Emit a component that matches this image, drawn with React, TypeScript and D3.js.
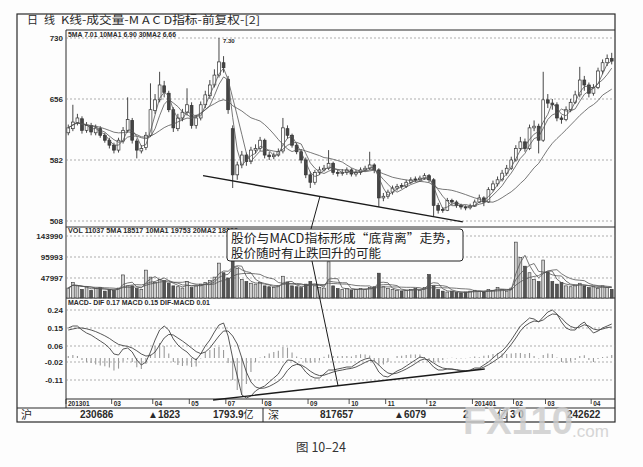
import * as React from "react";
import * as d3 from "d3";

// daily bars (compressed), prices in yuan
const opens = [
  6.15, 6.2, 6.27, 6.32, 6.18, 6.24, 6.15, 6.2, 6.12, 6.06,
  6.0, 5.94, 6.05, 6.18, 6.3, 6.05, 5.93, 5.97, 6.12, 6.42,
  6.55, 6.72, 6.63, 6.43, 6.2, 6.33, 6.4, 6.48, 6.24, 6.33,
  6.49, 6.6, 6.73, 6.85, 7.0, 6.8, 6.2, 5.64, 5.76, 5.88,
  5.8, 5.94, 5.96, 6.06, 5.88, 5.86, 5.88, 5.93, 6.2, 6.12,
  6.0, 5.92, 5.82, 5.64, 5.55, 5.67, 5.7, 5.72, 5.78, 5.67,
  5.66, 5.67, 5.7, 5.65, 5.67, 5.7, 5.72, 5.76, 5.7, 5.36,
  5.38, 5.43, 5.48, 5.51, 5.5, 5.55, 5.59, 5.58, 5.6, 5.63,
  5.58, 5.27, 5.22, 5.21, 5.33, 5.31, 5.27, 5.25, 5.24, 5.26,
  5.31, 5.36, 5.31, 5.46, 5.53, 5.58, 5.66, 5.72, 5.82, 5.96,
  6.04, 5.96, 6.21, 6.23, 6.06, 6.55, 6.51, 6.49, 6.33, 6.31,
  6.43, 6.52, 6.61, 6.79, 6.73, 6.63, 6.7, 6.9, 7.0, 7.05,
];
const closes = [
  6.21, 6.28, 6.33, 6.18, 6.24, 6.16, 6.21, 6.12, 6.06, 6.0,
  5.94, 6.06, 6.18, 6.31, 6.06, 5.94, 5.96, 6.12, 6.43, 6.55,
  6.73, 6.64, 6.43, 6.21, 6.33, 6.4, 6.49, 6.24, 6.33, 6.49,
  6.61, 6.73, 6.85, 7.01, 6.94, 6.43, 5.64, 5.76, 5.88, 5.8,
  5.94, 5.96, 6.06, 5.88, 5.86, 5.88, 5.92, 6.21, 6.12, 6.0,
  5.92, 5.82, 5.64, 5.55, 5.67, 5.7, 5.72, 5.78, 5.67, 5.66,
  5.67, 5.7, 5.65, 5.67, 5.7, 5.72, 5.76, 5.7, 5.36, 5.38,
  5.43, 5.48, 5.5, 5.5, 5.55, 5.58, 5.58, 5.6, 5.63, 5.58,
  5.27, 5.21, 5.21, 5.33, 5.31, 5.27, 5.25, 5.24, 5.26, 5.31,
  5.36, 5.31, 5.46, 5.53, 5.58, 5.66, 5.72, 5.82, 5.96, 6.04,
  5.96, 6.21, 6.23, 6.06, 6.55, 6.51, 6.49, 6.33, 6.31, 6.43,
  6.52, 6.61, 6.79, 6.73, 6.63, 6.7, 6.9, 7.0, 7.05, 7.02,
];
const highs = [
  6.25, 6.49, 6.38, 6.35, 6.28, 6.27, 6.25, 6.23, 6.15, 6.09,
  6.03, 6.09, 6.22, 6.58, 6.33, 6.08, 6.0, 6.16, 6.75, 6.62,
  6.89, 6.78, 6.66, 6.46, 6.38, 6.44, 6.69, 6.52, 6.37, 6.53,
  6.66, 6.79, 6.92, 7.3, 7.08, 6.84, 6.24, 5.8, 5.93, 5.91,
  5.98, 6.01, 6.1, 6.08, 5.92, 5.91, 5.96, 6.33, 6.24, 6.14,
  6.03, 5.95, 5.85, 5.68, 5.7, 5.74, 5.76, 5.94, 5.8, 5.7,
  5.71, 5.73, 5.72, 5.7, 5.73, 5.75, 5.92, 5.78, 5.72, 5.42,
  5.46, 5.51, 5.53, 5.54, 5.58, 5.61, 5.62, 5.63, 5.66, 5.65,
  5.6, 5.3, 5.25, 5.36, 5.35, 5.33, 5.29, 5.27, 5.29, 5.34,
  5.4, 5.38, 5.49, 5.57, 5.62, 5.7, 5.76, 5.86, 6.0, 6.1,
  6.08, 6.25, 6.3, 6.26, 6.89, 6.62, 6.56, 6.52, 6.36, 6.47,
  6.56, 6.66, 6.95, 6.84, 6.76, 6.74, 6.94, 7.04, 7.1, 7.12,
];
const lows = [
  6.12, 6.17, 6.24, 6.14, 6.15, 6.12, 6.12, 6.09, 6.03, 5.96,
  5.9, 5.91, 6.02, 6.15, 6.02, 5.84, 5.9, 5.94, 6.1, 6.38,
  6.52, 6.58, 6.4, 6.16, 6.17, 6.29, 6.36, 6.2, 6.2, 6.3,
  6.45, 6.56, 6.7, 6.82, 6.88, 6.38, 5.48, 5.58, 5.72, 5.75,
  5.77, 5.9, 5.93, 5.84, 5.82, 5.83, 5.86, 5.9, 6.08, 5.97,
  5.89, 5.78, 5.6, 5.48, 5.52, 5.64, 5.68, 5.7, 5.64, 5.62,
  5.63, 5.64, 5.62, 5.62, 5.64, 5.68, 5.7, 5.66, 5.25, 5.32,
  5.35, 5.4, 5.45, 5.47, 5.48, 5.53, 5.55, 5.56, 5.58, 5.55,
  5.14, 5.17, 5.18, 5.2, 5.28, 5.24, 5.22, 5.21, 5.22, 5.25,
  5.3, 5.26, 5.3, 5.44, 5.5, 5.56, 5.63, 5.7, 5.8, 5.93,
  5.92, 5.94, 6.17, 5.9, 6.04, 6.45, 6.43, 6.29, 6.26, 6.29,
  6.4, 6.5, 6.58, 6.66, 6.58, 6.6, 6.68, 6.86, 6.96, 6.98,
];
const volumes = [
  25000, 38000, 30000, 22000, 28000, 20000, 24000, 26000, 18000, 22000,
  20000, 25000, 55000, 30000, 30000, 24000, 22000, 66000, 50000, 38000,
  45000, 42000, 36000, 30000, 28000, 25000, 40000, 26000, 30000, 34000,
  38000, 42000, 50000, 82000, 60000, 48000, 110000, 70000, 45000, 40000,
  36000, 34000, 38000, 30000, 28000, 26000, 30000, 52000, 38000, 30000,
  28000, 26000, 34000, 40000, 30000, 26000, 25000, 85000, 30000, 24000,
  22000, 24000, 20000, 22000, 24000, 22000, 26000, 28000, 59000, 28000,
  24000, 22000, 20000, 18000, 20000, 22000, 24000, 20000, 26000, 56000,
  30000, 22000, 18000, 16000, 18000, 15000, 14000, 16000, 18000, 20000,
  18000, 16000, 22000, 20000, 26000, 22000, 18000, 25000, 130000, 95000,
  75000, 60000, 45000, 40000, 89000, 62000, 40000, 34000, 38000, 30000,
  28000, 32000, 36000, 30000, 26000, 28000, 24000, 30000, 26000, 22000,
];
const dif = [
  0.15, 0.16, 0.16, 0.14, 0.125, 0.115, 0.1, 0.085, 0.07, 0.05,
  0.02, 0.015, 0.045, 0.05, 0.03, -0.01, -0.035, -0.02, 0.03, 0.09,
  0.14, 0.16, 0.14, 0.095, 0.065, 0.045, 0.03, 0.005, -0.01, 0.02,
  0.06, 0.09, 0.13, 0.165, 0.175, 0.11, 0.0, -0.09, -0.185, -0.2,
  -0.19, -0.165, -0.15, -0.14, -0.12, -0.1, -0.08, -0.04, -0.01, -0.012,
  -0.025, -0.04, -0.07, -0.09, -0.1, -0.1, -0.08, -0.06, -0.06, -0.055,
  -0.05, -0.045, -0.045, -0.03, -0.015, -0.005, 0.0, -0.03, -0.07, -0.09,
  -0.095, -0.08, -0.065, -0.055, -0.04, -0.025, -0.01, 0.005, 0.0, -0.02,
  -0.045, -0.06, -0.06, -0.055, -0.055, -0.06, -0.065, -0.065, -0.06, -0.05,
  -0.05, -0.035, -0.02, 0.0, 0.02, 0.035, 0.06, 0.09, 0.125, 0.16,
  0.18, 0.2, 0.195, 0.18, 0.205, 0.23, 0.24, 0.22, 0.18, 0.15,
  0.14, 0.14, 0.165, 0.18, 0.15, 0.125, 0.135, 0.15, 0.16, 0.17,
];
const dea = [
  0.14, 0.145, 0.15, 0.15, 0.146, 0.14, 0.132, 0.122, 0.111, 0.098,
  0.082, 0.068, 0.062, 0.058, 0.05, 0.036, 0.02, 0.01, 0.012, 0.03,
  0.065, 0.1, 0.118, 0.115, 0.1, 0.085, 0.068, 0.05, 0.032, 0.022,
  0.03, 0.05, 0.08, 0.11, 0.135, 0.135, 0.11, 0.07, 0.0, -0.07,
  -0.12, -0.145, -0.152, -0.15, -0.142, -0.13, -0.116, -0.095, -0.062, -0.04,
  -0.032, -0.035, -0.048, -0.066, -0.08, -0.088, -0.086, -0.078, -0.07, -0.064,
  -0.06, -0.055, -0.052, -0.045, -0.034, -0.022, -0.012, -0.015, -0.035, -0.058,
  -0.075, -0.08, -0.075, -0.066, -0.055, -0.042, -0.028, -0.012, -0.005, -0.01,
  -0.025, -0.04, -0.05, -0.054, -0.056, -0.058, -0.062, -0.064, -0.063, -0.058,
  -0.054, -0.046, -0.034, -0.02, -0.004, 0.012, 0.04, 0.068, 0.1, 0.135,
  0.16, 0.175, 0.185, 0.182, 0.19, 0.208, 0.22, 0.218, 0.2, 0.175,
  0.158, 0.15, 0.155, 0.166, 0.16, 0.145, 0.14, 0.145, 0.152, 0.155,
];
const monthLabels = ["201301", "03", "04", "05", "07", "08", "09", "10", "11", "12", "201401", "02", "03", "04"];
const monthIndex = [0, 10, 19, 27, 35, 43, 53, 62, 70, 79, 89, 98, 105, 115];
const priceTicks = [7.3, 6.56, 5.82, 5.08];
const volTicks = [143990, 95993, 47997];
const macdTicks = [0.24, 0.15, 0.06, -0.02, -0.11];
// annotation lines: [bar position, value]
const priceDivergence = [[30.0, 5.63], [86.9, 5.07]];
const macdDivergence = [[32.2, -0.21], [91.7, -0.055]];

const W = 643;
const H = 467;
const L = 66;
const R = 615;
const N = closes.length;
const ink = "#2a2a2a";
const grid = "#8a8a8a";
const axisFont = "'Liberation Sans Narrow', 'Liberation Sans', Arial, sans-serif";
const cjk = "'Noto Sans CJK SC', 'Noto Sans', sans-serif";

const movingAvg = (arr: number[], n: number) =>
  arr.map((_, i) => d3.mean(arr.slice(Math.max(0, i - n + 1), i + 1)) as number);

export default function App() {
  const x = d3.scaleLinear().domain([0, N]).range([L, R - 1]);
  const step = x(1) - x(0);
  const cx = (i: number) => x(i + 0.5);
  const yP = d3.scaleLinear().domain([5.08, 7.3]).range([221, 38]);
  const yV = d3.scaleLinear().domain([0, 143990]).range([299, 236]);
  const yM = d3.scaleLinear().domain([-0.11, 0.24]).range([380, 310]);

  const idx = d3.range(N);
  const priceLine = d3.line<number>().x((_, i) => cx(i)).y((d) => yP(d));
  const volLine = d3.line<number>().x((_, i) => cx(i)).y((d) => yV(d));
  const macdLine = d3.line<number>().x((_, i) => cx(i)).y((d) => yM(d));

  const priceMAs = [3, 5, 14].map((n) => movingAvg(closes, n));
  const volMAs = [3, 5, 10].map((n) => movingAvg(volumes, n));

  const body = step * 0.62;

  const pd = priceDivergence.map(([i, v]) => [x(i), yP(v)]);
  const md = macdDivergence.map(([i, v]) => [x(i), yM(v)]);
  const onLine = (p: number[][], t: number) => [p[0][0] + (p[1][0] - p[0][0]) * t, p[0][1] + (p[1][1] - p[0][1]) * t];
  const upperAnchor = onLine(pd, 0.45);
  const lowerAnchor = onLine(md, 0.46);

  const box = { x: 227, y: 229, w: 236, h: 32 };

  return (
    <svg width={W} height={H} style={{ position: "absolute", left: 0, top: 0, background: "#fdfdfd" }}>
      <rect x={0} y={0} width={W} height={H} fill="#fdfdfd" />

      {/* frame */}
      <rect x={17} y={14} width={R - 17} height={408} fill="none" stroke={ink} strokeWidth={1.2} />
      <line x1={L} x2={R} y1={30} y2={30} stroke={ink} />
      <line x1={L} x2={L} y1={30} y2={408} stroke={ink} />
      <line x1={L} x2={R} y1={227} y2={227} stroke={ink} />
      <line x1={L} x2={R} y1={298} y2={298} stroke={ink} />
      <line x1={L} x2={R} y1={399} y2={399} stroke={ink} />
      <line x1={17} x2={R} y1={408} y2={408} stroke={ink} strokeWidth={1.2} />

      {/* title */}
      <g fill={ink} fontFamily={cjk} fontSize={11}>
        <text x={27} y={24}>日</text>
        <text x={44} y={24}>线</text>
        <text x={61} y={24} textLength={199} lengthAdjust="spacingAndGlyphs">K线-成交量-M A C D指标-前复权-[2]</text>
      </g>

      {/* grid */}
      <g stroke={grid} strokeWidth={0.7} strokeDasharray="2,2">
        {priceTicks.map((t) => <line key={"p" + t} x1={L} x2={R} y1={yP(t)} y2={yP(t)} />)}
        {volTicks.map((t) => <line key={"v" + t} x1={L} x2={R} y1={yV(t)} y2={yV(t)} />)}
        {macdTicks.map((t) => <line key={"m" + t} x1={L} x2={R} y1={yM(t)} y2={yM(t)} />)}
      </g>

      {/* axis labels */}
      <g fill={ink} fontFamily={axisFont} fontSize={8} fontWeight="bold" textAnchor="end">
        {priceTicks.map((t) => <text key={"pl" + t} x={L - 3} y={yP(t) + 3}>{Math.round(t * 100)}</text>)}
        {volTicks.map((t) => <text key={"vl" + t} x={L - 3} y={yV(t) + 3}>{t}</text>)}
        {macdTicks.map((t) => <text key={"ml" + t} x={L - 3} y={yM(t) + 3}>{t.toFixed(2)}</text>)}
      </g>

      {/* panel legends */}
      <g fill={ink} fontFamily={axisFont} fontSize={6.5} fontWeight="bold">
        <text x={68} y={37} textLength={108} lengthAdjust="spacingAndGlyphs">5MA 7.01   10MA1 6.90   30MA2 6.66</text>
        <text x={68} y={233} textLength={170} lengthAdjust="spacingAndGlyphs">VOL 11037   5MA 18517   10MA1 19753   20MA2 18899</text>
        <text x={68} y={305} textLength={142} lengthAdjust="spacingAndGlyphs">MACD- DIF 0.17  MACD 0.15  DIF-MACD 0.01</text>
        <text x={223} y={43} fontSize={6}>7.30</text>
      </g>

      {/* candles */}
      <g>
        {idx.map((i) => {
          const up = closes[i] >= opens[i];
          const top = yP(Math.max(opens[i], closes[i]));
          const bot = yP(Math.min(opens[i], closes[i]));
          return (
            <g key={"c" + i}>
              <line x1={cx(i)} x2={cx(i)} y1={yP(highs[i])} y2={yP(lows[i])} stroke="#333" strokeWidth={0.9} />
              <rect x={cx(i) - body / 2} y={top} width={body} height={Math.max(1, bot - top)}
                fill={up ? "#fdfdfd" : "#444"} stroke="#333" strokeWidth={0.7} />
            </g>
          );
        })}
      </g>
      {priceMAs.map((m, k) => (
        <path key={"pma" + k} d={priceLine(m) ?? ""} fill="none" stroke="#555" strokeWidth={0.8} />
      ))}

      {/* volume */}
      <g>
        {idx.map((i) => {
          const up = closes[i] >= opens[i];
          return (
            <rect key={"v" + i} x={cx(i) - body / 2} y={yV(volumes[i])} width={body} height={yV(0) - yV(volumes[i]) - 1}
              fill={up ? "#cfcfcf" : "#555"} stroke="#333" strokeWidth={0.6} />
          );
        })}
      </g>
      {volMAs.map((m, k) => (
        <path key={"vma" + k} d={volLine(m) ?? ""} fill="none" stroke="#555" strokeWidth={0.8} />
      ))}

      {/* macd histogram = DIF - MACD */}
      <g stroke="#9a9a9a" strokeWidth={1.1}>
        {idx.map((i) => {
          const h = dif[i] - dea[i];
          return <line key={"h" + i} x1={cx(i)} x2={cx(i)} y1={yM(0)} y2={yM(h)} />;
        })}
      </g>
      <path d={macdLine(dif) ?? ""} fill="none" stroke="#444" strokeWidth={0.9} />
      <path d={macdLine(dea) ?? ""} fill="none" stroke="#444" strokeWidth={0.9} />

      {/* date axis */}
      <g fill={ink} fontFamily={axisFont} fontSize={6.5} fontWeight="bold">
        {monthIndex.map((mi, k) => (
          <g key={"d" + k}>
            <line x1={x(mi)} x2={x(mi)} y1={399} y2={404} stroke={ink} strokeWidth={0.8} />
            <text x={x(mi) + 2} y={406}>{monthLabels[k]}</text>
          </g>
        ))}
      </g>

      {/* status row */}
      <g fill={ink} fontFamily={axisFont} fontSize={10} fontWeight="bold">
        <text x={21} y={419} fontFamily={cjk} fontSize={11} fontWeight="normal">沪</text>
        <text x={80} y={418}>230686</text>
        <text x={148} y={418}>▲1823</text>
        <text x={213} y={418}>1793.9<tspan fontFamily={cjk} fontWeight="normal">亿</tspan></text>
        <text x={268} y={419} fontFamily={cjk} fontSize={11} fontWeight="normal">深</text>
        <text x={320} y={418}>817657</text>
        <text x={394} y={418}>▲6079</text>
        <text x={463} y={418}>2</text>
        <text x={497} y={418} fontFamily={cjk} fontWeight="normal">亿</text>
        <text x={510} y={418}>3 0</text>
        <text x={567} y={418}>242622</text>
      </g>
      <line x1={263} x2={263} y1={408} y2={422} stroke={ink} />
      <line x1={507} x2={507} y1={408} y2={422} stroke={ink} />

      {/* divergence annotations */}
      <g stroke="#1a1a1a" strokeWidth={1.4} fill="none">
        <line x1={pd[0][0]} y1={pd[0][1]} x2={pd[1][0]} y2={pd[1][1]} />
        <line x1={md[0][0]} y1={md[0][1]} x2={md[1][0]} y2={md[1][1]} />
        <line x1={upperAnchor[0]} y1={upperAnchor[1]} x2={311} y2={box.y} strokeWidth={1} />
        <line x1={312} y1={box.y + box.h} x2={lowerAnchor[0]} y2={lowerAnchor[1]} strokeWidth={1} />
      </g>
      <rect x={box.x} y={box.y} width={box.w} height={box.h} rx={3} fill="#fdfdfd" stroke="#222" strokeWidth={1} />
      <g fill="#222" fontFamily={cjk} fontSize={12.5}>
        <text x={231} y={243} textLength={227} lengthAdjust="spacingAndGlyphs">股价与MACD指标形成“底背离”走势，</text>
        <text x={231} y={258}>股价随时有止跌回升的可能</text>
      </g>

      {/* watermark */}
      <g fill="#cccccc" opacity={0.8} fontFamily="'Liberation Sans', Arial, sans-serif" fontWeight="bold">
        <text x={463} y={434} fontSize={38}>FX110</text>
        <text x={572} y={437} fontSize={17} fontWeight="normal">.com</text>
      </g>

      {/* caption */}
      <text x={321} y={452} textAnchor="middle" fill="#333" fontFamily={cjk} fontSize={12.5}>图 10–24</text>
    </svg>
  );
}
